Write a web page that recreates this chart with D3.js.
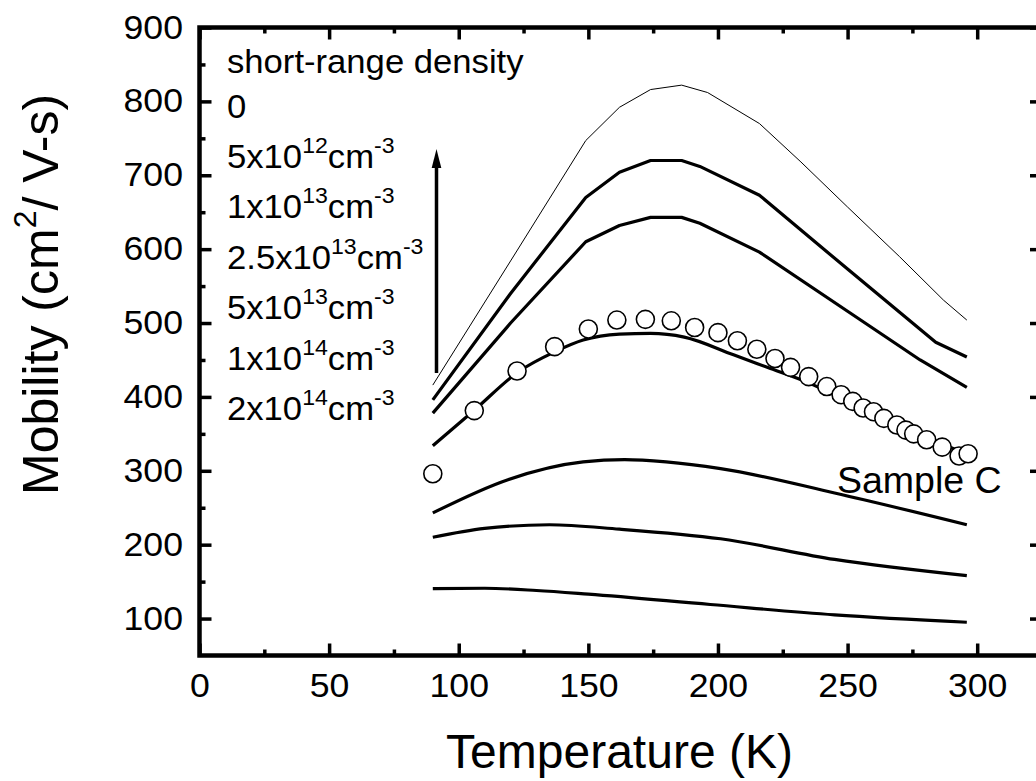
<!DOCTYPE html>
<html>
<head>
<meta charset="utf-8">
<script src="https://cdn.jsdelivr.net/npm/d3@7"></script>
<style>
  html, body { margin: 0; padding: 0; background: #fff; }
  svg { display: block; font-family: "Liberation Sans", Arial, Helvetica, sans-serif; }
</style>
</head>
<body>
<svg id="chart" width="1036" height="781"></svg>
<script>
// Calculated mobility vs temperature for increasing short-range scatterer density
const curve0   = [[90,416],[120,584],[149,747],[162,792],[174,816],[186,822],[196,812],[216,770],[232,718],[250,657],[270,590],[287,531],[296,504]];
const curve5e12 = [[90,396],[120,540],[149,670],[162,704],[174,720],[186,720],[193,712],[216,673],[250,573],[284,474],[296,454]];
const curve1e13 = [[90,378],[120,500],[149,610],[162,632],[174,643],[186,643],[193,635],[216,596],[250,516],[278,450],[296,413]];
const curve2_5e13 = [[90,334],[106,382],[123,434],[137,461],[148,477],[162,485],[174,486],[187,481],[206,457],[219,440],[235,419],[250,394],[270,362],[296,322]];
const curve5e13 = [[90,243],[119,288],[148,312],[164,315],[180,312],[201,303],[245,270],[296,227]];
const curve1e14 = [[90,210],[110,222],[135,227],[162,221],[201,208],[245,180],[296,158]];
const curve2e14 = [[90,140.5],[110,141],[130,138],[150,133],[197,119],[245,105],[296,95]];

// Measured Hall mobility, Sample C
const sampleT  = [90,106,122.5,137,150,161,172,182,191,200,207.5,215,222,228,235,242,247.5,252,256,260,264,269,272.5,275.5,280.5,286.5,293,296.5];
const sampleMu = [296,381.5,435,468,492,504,505,503,494,487,476,464.5,452,440,427.5,414,403,394,385,380,371,362,355,350,342,332,320,323];

// Legend entries (mantissa x 10^exponent cm^-3)
const legendMantissa = ["5","1","2.5","5","1","2"];
const legendExponent = ["12","13","13","13","14","14"];

const xTicks = [0,50,100,150,200,250,300];
const xMinor = d3.range(25, 325, 50);
const yTicks = [100,200,300,400,500,600,700,800,900];
const yMinor = d3.range(150, 900, 100);

const svg = d3.select("#chart");
const x = d3.scaleLinear().domain([0, 325]).range([199.5, 1042]);
const y = d3.scaleLinear().domain([50, 900]).range([655.5, 27.5]);

const tickFont = 33, tickStretch = 1.08;

// frame
svg.append("rect")
  .attr("x", x(0)).attr("y", y(900))
  .attr("width", x(325) - x(0)).attr("height", y(50) - y(900))
  .attr("fill", "none").attr("stroke", "#000").attr("stroke-width", 4.5);

// inward ticks on all four sides
function ticks(axisFn, scale, vals, size, pos, labels) {
  const ax = axisFn(scale).tickValues(vals).tickSize(-size).tickPadding(labels ? (axisFn === d3.axisBottom ? 18 : 16.5) : 0);
  if (!labels) ax.tickFormat("");
  const g = svg.append("g").attr("transform", pos).call(ax);
  g.select(".domain").remove();
  g.selectAll(".tick line").attr("stroke", "#000").attr("stroke-width", 3.5);
  g.selectAll(".tick text").attr("fill", "#000").style("font-size", tickFont + "px")
    .style("font-family", "'Liberation Sans', Arial, sans-serif")
    .each(function () {
      const t = d3.select(this);
      const tx = +t.attr("x") || 0;
      t.attr("x", 0).attr("transform", `translate(${tx},0) scale(${tickStretch},1)`);
    });
  return g;
}
ticks(d3.axisBottom, x, xTicks, 12, `translate(0,${y(50)})`, true);
ticks(d3.axisBottom, x, xMinor, 6, `translate(0,${y(50)})`, false);
ticks(d3.axisTop, x, xTicks, 12, `translate(0,${y(900)})`, false);
ticks(d3.axisTop, x, xMinor, 6, `translate(0,${y(900)})`, false);
ticks(d3.axisLeft, y, yTicks, 12, `translate(${x(0)},0)`, true);
ticks(d3.axisLeft, y, yMinor, 6, `translate(${x(0)},0)`, false);
ticks(d3.axisRight, y, yTicks, 12, `translate(${x(325)},0)`, false);
ticks(d3.axisRight, y, yMinor, 6, `translate(${x(325)},0)`, false);

// model curves
const lineLin = d3.line().x(d => x(d[0])).y(d => y(d[1])).curve(d3.curveLinear);
const lineSmooth = d3.line().x(d => x(d[0])).y(d => y(d[1])).curve(d3.curveMonotoneX);
const curves = [
  {pts: curve0, w: 1, gen: lineLin},
  {pts: curve5e12, w: 3.2, gen: lineLin},
  {pts: curve1e13, w: 3.2, gen: lineLin},
  {pts: curve2_5e13, w: 3.2, gen: lineSmooth},
  {pts: curve5e13, w: 3.2, gen: lineSmooth},
  {pts: curve1e14, w: 3.2, gen: lineSmooth},
  {pts: curve2e14, w: 3.2, gen: lineSmooth}
];
svg.append("g").selectAll("path").data(curves).join("path")
  .attr("d", d => d.gen(d.pts))
  .attr("fill", "none").attr("stroke", "#000")
  .attr("stroke-width", d => d.w).attr("stroke-linejoin", "round");

// measured points
svg.append("g").selectAll("circle").data(sampleT.map((t, i) => [t, sampleMu[i]])).join("circle")
  .attr("cx", d => x(d[0])).attr("cy", d => y(d[1])).attr("r", 9)
  .attr("fill", "#fff").attr("stroke", "#000").attr("stroke-width", 1.6);

// density arrow
const arrowX = 436.5;
svg.append("line").attr("x1", arrowX).attr("x2", arrowX).attr("y1", 373).attr("y2", 164)
  .attr("stroke", "#000").attr("stroke-width", 3.5);
svg.append("path").attr("d", `M${arrowX},149 L${arrowX - 4.8},168 L${arrowX + 4.8},168 Z`).attr("fill", "#000");

// legend text
const legFont = 33, supFont = 22, legX = 227, legStretch = 1.05;
function legendLine(yb) {
  return svg.append("text").attr("transform", `translate(${legX},${yb}) scale(${legStretch},1)`)
    .style("font-size", legFont + "px");
}
legendLine(73).text("short-range density");
legendLine(118).text("0");
legendMantissa.forEach((m, i) => {
  const t = legendLine(168 + i * 50.4);
  t.append("tspan").text(m + "x10");
  t.append("tspan").attr("dy", -15).style("font-size", supFont + "px").text(legendExponent[i]);
  t.append("tspan").attr("dy", 15).text("cm");
  t.append("tspan").attr("dy", -15).style("font-size", supFont + "px").text("-3");
});

// sample label
svg.append("text").attr("x", 837).attr("y", 493).style("font-size", "37.5px").text("Sample C");

// axis titles
svg.append("text").attr("x", 619.5).attr("y", 768).attr("text-anchor", "middle")
  .style("font-size", "48px").text("Temperature (K)");
const yt = svg.append("text").attr("transform", "translate(58,495) rotate(-90)").style("font-size", "50px");
yt.append("tspan").text("Mobility (cm");
yt.append("tspan").attr("dy", -22).style("font-size", "32px").text("2");
yt.append("tspan").attr("dy", 22).text("/ V-s)");
</script>
</body>
</html>
